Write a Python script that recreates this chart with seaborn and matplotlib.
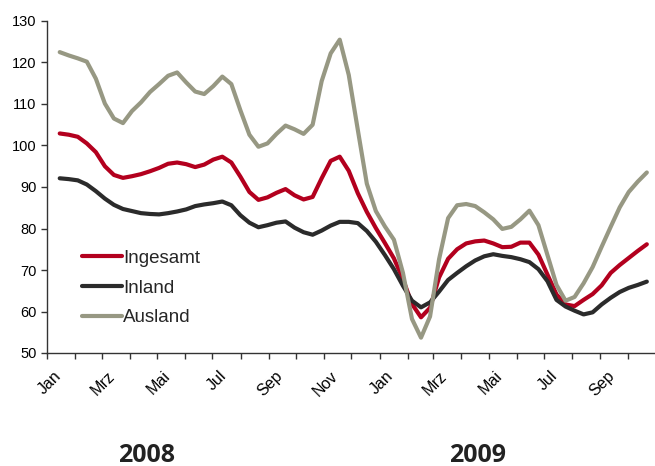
import seaborn as sns
import matplotlib.pyplot as plt
import matplotlib.transforms as mtransforms
import pandas as pd

# Daten (Index), ca. alle 10 Tage von Mitte Jan 2008 bis Ende Okt 2009
datum = pd.date_range('2008-01-15', '2009-10-22', periods=66)

ingesamt = [102.9, 102.6, 102.1, 100.5, 98.4, 95.0, 92.9, 92.2, 92.6, 93.1,
            93.8, 94.6, 95.6, 95.9, 95.5, 94.8, 95.4, 96.6, 97.3, 95.9,
            92.5, 88.8, 86.9, 87.5, 88.6, 89.5, 88.0, 87.0, 87.6, 92.1,
            96.3, 97.3, 93.9, 88.5, 84.0, 80.1, 76.5, 72.8, 67.8, 61.8,
            58.6, 60.9, 68.2, 72.7, 75.0, 76.4, 76.9, 77.1, 76.4, 75.5,
            75.6, 76.6, 76.6, 73.7, 68.9, 64.1, 61.7, 61.3, 62.8, 64.2,
            66.3, 69.3, 71.2, 72.9, 74.6, 76.2]

inland = [92.1, 91.9, 91.6, 90.6, 89.0, 87.2, 85.7, 84.7, 84.2, 83.7,
          83.5, 83.4, 83.7, 84.1, 84.6, 85.4, 85.8, 86.1, 86.5, 85.6,
          83.2, 81.4, 80.3, 80.8, 81.4, 81.7, 80.2, 79.1, 78.5, 79.5,
          80.7, 81.6, 81.6, 81.3, 79.4, 76.8, 73.6, 70.2, 66.2, 62.6,
          61.0, 62.2, 64.8, 67.6, 69.3, 70.9, 72.3, 73.3, 73.8, 73.4,
          73.1, 72.6, 71.9, 70.2, 67.3, 62.8, 61.2, 60.2, 59.3, 59.8,
          61.7, 63.3, 64.7, 65.7, 66.4, 67.2]

ausland = [122.5, 121.7, 121.0, 120.2, 116.1, 110.1, 106.5, 105.4, 108.3, 110.4,
           112.9, 114.8, 116.8, 117.6, 115.2, 113.0, 112.4, 114.3, 116.6, 114.8,
           108.5, 102.6, 99.7, 100.5, 102.8, 104.8, 103.9, 102.8, 105.0, 115.5,
           122.2, 125.5, 117.0, 103.8, 90.8, 84.2, 80.5, 77.3, 69.3, 58.2,
           53.7, 58.8, 72.6, 82.5, 85.6, 85.9, 85.4, 83.9, 82.2, 79.9,
           80.4, 82.2, 84.3, 80.8, 73.6, 66.4, 62.6, 63.5, 66.8, 70.7,
           75.6, 80.4, 85.1, 88.8, 91.3, 93.5]

monate = pd.date_range('2008-01-01', '2009-10-01', freq='MS')
monat_labels = ['Jan', '', 'Mrz', '', 'Mai', '', 'Jul', '', 'Sep', '', 'Nov', '',
                'Jan', '', 'Mrz', '', 'Mai', '', 'Jul', '', 'Sep', '']
jahre = ['2008', '2009']

df = pd.DataFrame({'datum': datum, 'Ingesamt': ingesamt, 'Inland': inland, 'Ausland': ausland})

sns.set_style('ticks')
plt.rcParams['font.family'] = ['Liberation Sans', 'DejaVu Sans']

fig = plt.figure(figsize=(6.55, 4.66), dpi=100)
ax = fig.add_axes([47 / 655, 1 - 353 / 466, 608 / 655, 332 / 466])

sns.lineplot(x='datum', y='Ingesamt', data=df, color='#B3001E', lw=3, label='Ingesamt', ax=ax)
sns.lineplot(x='datum', y='Inland', data=df, color='#2B2B2B', lw=3, label='Inland', ax=ax)
sns.lineplot(x='datum', y='Ausland', data=df, color='#979883', lw=3, label='Ausland', ax=ax)

ax.set_ylim(50, 130)
ax.set_yticks(range(50, 131, 10))
ax.set_xlim(pd.Timestamp('2008-01-01'), pd.Timestamp('2009-10-31'))
ax.set_xticks(monate)
ax.set_xticklabels(monat_labels, rotation=45, ha='right', rotation_mode='anchor')
ax.set_xlabel('')
ax.set_ylabel('')
ax.tick_params(axis='both', direction='out', length=4, width=1, colors='#333333',
               labelcolor='black', labelsize=10.5)
ax.tick_params(axis='x', labelsize=11.5, pad=5)
# Beschriftungen etwas nach rechts/unten schieben wie im Original
offset = mtransforms.ScaledTranslation(6 / 100, -3 / 100, fig.dpi_scale_trans)
for lbl in ax.get_xticklabels():
    lbl.set_transform(lbl.get_transform() + offset)
for s in ['top', 'right']:
    ax.spines[s].set_visible(False)
for s in ['left', 'bottom']:
    ax.spines[s].set_color('#333333')
    ax.spines[s].set_linewidth(1)

ax.legend(loc='center left', bbox_to_anchor=(73 / 655, 1 - 288 / 466),
          bbox_transform=fig.transFigure, frameon=False, fontsize=13.5,
          handlelength=2.1, handletextpad=0.08, labelspacing=0.68, borderpad=0)

fig.text(147 / 655, 1 - 455 / 466, jahre[0], ha='center', va='center', fontsize=18,
         fontweight='bold', color='#222222', family=['Open Sans', 'DejaVu Sans'])
fig.text(478 / 655, 1 - 455 / 466, jahre[1], ha='center', va='center', fontsize=18,
         fontweight='bold', color='#222222', family=['Open Sans', 'DejaVu Sans'])

fig.savefig('out.png', dpi=100)
